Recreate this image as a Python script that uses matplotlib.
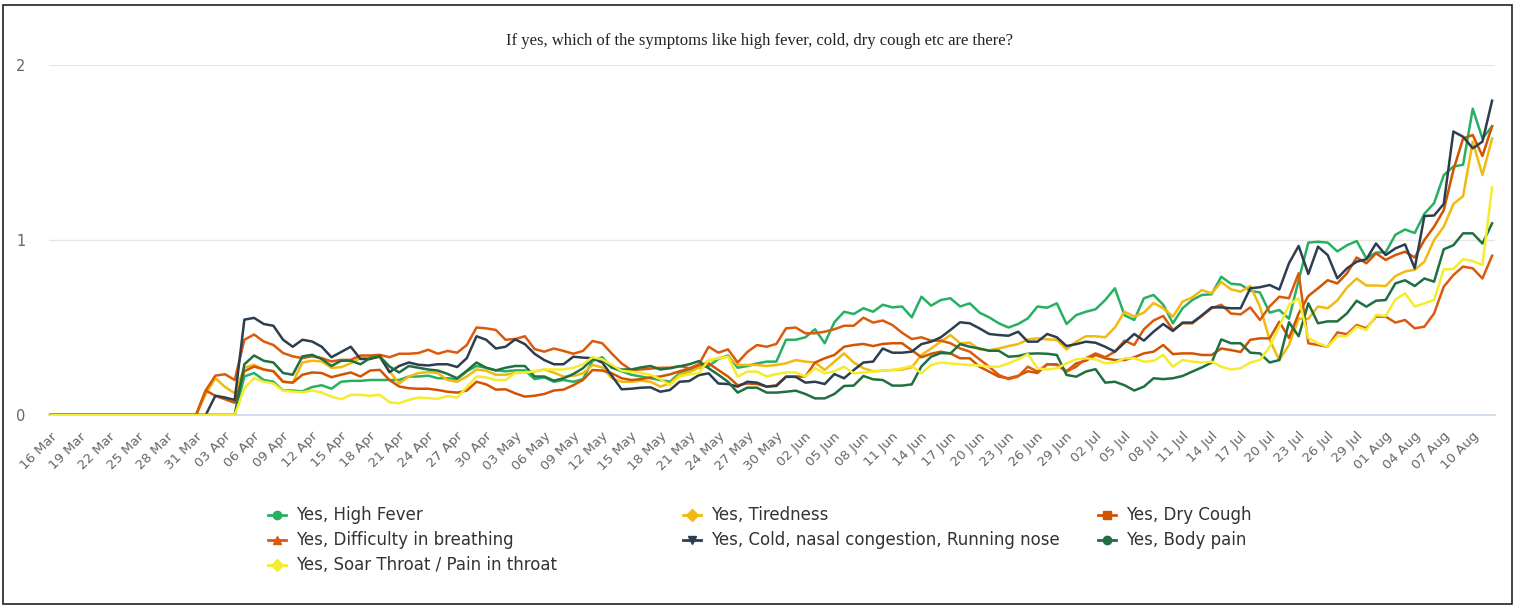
import matplotlib.pyplot as plt
from matplotlib.lines import Line2D
from matplotlib.patches import Rectangle
from matplotlib.transforms import ScaledTranslation

W, H = 1518, 608

title = "If yes, which of the symptoms like high fever, cold, dry cough etc are there?"

tick_labels = [
    "16 Mar", "19 Mar", "22 Mar", "25 Mar", "28 Mar", "31 Mar", "03 Apr", "06 Apr",
    "09 Apr", "12 Apr", "15 Apr", "18 Apr", "21 Apr", "24 Apr", "27 Apr", "30 Apr",
    "03 May", "06 May", "09 May", "12 May", "15 May", "18 May", "21 May", "24 May",
    "27 May", "30 May", "02 Jun", "05 Jun", "08 Jun", "11 Jun", "14 Jun", "17 Jun",
    "20 Jun", "23 Jun", "26 Jun", "29 Jun", "02 Jul", "05 Jul", "08 Jul", "11 Jul",
    "14 Jul", "17 Jul", "20 Jul", "23 Jul", "26 Jul", "29 Jul", "01 Aug", "04 Aug",
    "07 Aug", "10 Aug",
]

# one value per day, 16 Mar .. 12 Aug
high_fever = [
    0, 0, 0, 0, 0, 0, 0, 0, 0, 0, 0, 0, 0, 0, 0, 0, 0, 0, 0, 0,
    0.22, 0.24, 0.20, 0.19, 0.14, 0.14, 0.135, 0.16, 0.17, 0.15,
    0.19, 0.195, 0.195, 0.20, 0.20, 0.20, 0.20, 0.22, 0.22, 0.225,
    0.21, 0.21, 0.205, 0.25, 0.28, 0.27, 0.255, 0.25, 0.255, 0.255,
    0.205, 0.215, 0.19, 0.20, 0.19, 0.205, 0.31, 0.33, 0.27, 0.25,
    0.23, 0.22, 0.21, 0.20, 0.19, 0.24, 0.26, 0.27, 0.28, 0.32,
    0.34, 0.27, 0.28, 0.295, 0.305, 0.305, 0.43, 0.43, 0.444, 0.49,
    0.41, 0.53, 0.59, 0.577, 0.61, 0.59, 0.63, 0.615, 0.62, 0.558,
    0.676, 0.625, 0.657, 0.667, 0.62, 0.638, 0.585, 0.558, 0.524, 0.50,
    0.52, 0.552, 0.62, 0.613, 0.638, 0.52, 0.571, 0.59, 0.604, 0.657,
    0.724, 0.57, 0.543, 0.667, 0.686, 0.63, 0.524, 0.61, 0.657, 0.686,
    0.69, 0.79, 0.75, 0.745, 0.71, 0.70, 0.585, 0.60, 0.55, 0.77,
    0.985, 0.99, 0.985, 0.935, 0.97, 0.994, 0.895, 0.928, 0.93, 1.03,
    1.06, 1.04, 1.15, 1.21, 1.37, 1.42, 1.43, 1.75, 1.58, 1.65,
]

tiredness = [
    0, 0, 0, 0, 0, 0, 0, 0, 0, 0, 0, 0, 0, 0, 0, 0, 0.12, 0.21, 0.16, 0.124,
    0.27, 0.287, 0.26, 0.25, 0.19, 0.185, 0.30, 0.31, 0.306, 0.27,
    0.273, 0.296, 0.325, 0.33, 0.33, 0.25, 0.18, 0.22, 0.24, 0.245,
    0.24, 0.20, 0.19, 0.22, 0.26, 0.253, 0.23, 0.23, 0.24, 0.242,
    0.248, 0.26, 0.242, 0.22, 0.223, 0.238, 0.286, 0.272, 0.21, 0.19,
    0.19, 0.196, 0.19, 0.162, 0.18, 0.23, 0.245, 0.27, 0.31, 0.324,
    0.333, 0.286, 0.286, 0.286, 0.28, 0.286, 0.295, 0.314, 0.305, 0.30,
    0.257, 0.305, 0.352, 0.30, 0.267, 0.25, 0.253, 0.257, 0.26, 0.272,
    0.343, 0.38, 0.419, 0.457, 0.41, 0.413, 0.375, 0.37, 0.38, 0.394,
    0.405, 0.432, 0.438, 0.432, 0.43, 0.375, 0.419, 0.45, 0.45, 0.444,
    0.50, 0.59, 0.562, 0.585, 0.64, 0.61, 0.562, 0.648, 0.672, 0.714,
    0.695, 0.76, 0.718, 0.705, 0.737, 0.62, 0.43, 0.314, 0.40, 0.55,
    0.55, 0.62, 0.61, 0.655, 0.728, 0.78, 0.74, 0.74, 0.737, 0.794,
    0.82, 0.83, 0.876, 1.00, 1.076, 1.206, 1.25, 1.562, 1.371, 1.58,
]

dry_cough = [
    0, 0, 0, 0, 0, 0, 0, 0, 0, 0, 0, 0, 0, 0, 0, 0, 0.14, 0.11, 0.09, 0.07,
    0.25, 0.277, 0.26, 0.25, 0.19, 0.185, 0.23, 0.243, 0.24, 0.216,
    0.23, 0.243, 0.22, 0.254, 0.258, 0.20, 0.163, 0.153, 0.15, 0.15,
    0.143, 0.133, 0.128, 0.14, 0.19, 0.175, 0.145, 0.147, 0.124, 0.105,
    0.11, 0.12, 0.14, 0.145, 0.17, 0.20, 0.257, 0.254, 0.238, 0.21,
    0.20, 0.205, 0.215, 0.22, 0.232, 0.25, 0.265, 0.285, 0.295, 0.257,
    0.22, 0.17, 0.18, 0.177, 0.162, 0.17, 0.22, 0.22, 0.22, 0.30,
    0.324, 0.343, 0.39, 0.40, 0.406, 0.394, 0.406, 0.41, 0.41, 0.37,
    0.33, 0.35, 0.362, 0.352, 0.324, 0.324, 0.276, 0.248, 0.219, 0.21,
    0.224, 0.25, 0.24, 0.29, 0.29, 0.25, 0.295, 0.31, 0.343, 0.324,
    0.314, 0.314, 0.33, 0.352, 0.362, 0.40, 0.348, 0.352, 0.352, 0.343,
    0.343, 0.38, 0.371, 0.36, 0.43, 0.438, 0.438, 0.533, 0.44, 0.58,
    0.68, 0.724, 0.77, 0.752, 0.81, 0.90, 0.867, 0.924, 0.886, 0.914,
    0.933, 0.90, 1.00, 1.076, 1.17, 1.40, 1.58, 1.60, 1.48, 1.65,
]

breathing = [
    0, 0, 0, 0, 0, 0, 0, 0, 0, 0, 0, 0, 0, 0, 0, 0, 0.14, 0.225, 0.233, 0.20,
    0.43, 0.46, 0.42, 0.40, 0.354, 0.335, 0.325, 0.335, 0.325, 0.306,
    0.315, 0.315, 0.34, 0.34, 0.344, 0.33, 0.35, 0.35, 0.354, 0.373,
    0.35, 0.366, 0.356, 0.40, 0.50, 0.495, 0.486, 0.43, 0.434, 0.45,
    0.377, 0.362, 0.38, 0.366, 0.35, 0.366, 0.423, 0.41, 0.35, 0.295,
    0.257, 0.26, 0.265, 0.27, 0.27, 0.28, 0.267, 0.29, 0.39, 0.356,
    0.375, 0.30, 0.36, 0.40, 0.39, 0.406, 0.495, 0.50, 0.467, 0.467,
    0.476, 0.49, 0.51, 0.51, 0.556, 0.528, 0.54, 0.514, 0.47, 0.434,
    0.444, 0.425, 0.425, 0.41, 0.38, 0.362, 0.318, 0.276, 0.229, 0.205,
    0.22, 0.276, 0.248, 0.29, 0.286, 0.248, 0.276, 0.324, 0.352, 0.33,
    0.362, 0.425, 0.40, 0.49, 0.54, 0.566, 0.486, 0.524, 0.524, 0.566,
    0.61, 0.63, 0.58, 0.575, 0.615, 0.543, 0.62, 0.676, 0.667, 0.81,
    0.41, 0.40, 0.39, 0.472, 0.462, 0.514, 0.495, 0.562, 0.562, 0.528,
    0.543, 0.495, 0.505, 0.58, 0.733, 0.80, 0.848, 0.838, 0.78, 0.91,
]

cold = [
    0, 0, 0, 0, 0, 0, 0, 0, 0, 0, 0, 0, 0, 0, 0, 0, 0, 0.11, 0.10, 0.086,
    0.545, 0.555, 0.52, 0.51, 0.43, 0.39, 0.43, 0.42, 0.39, 0.33,
    0.36, 0.39, 0.32, 0.32, 0.335, 0.245, 0.28, 0.30, 0.287, 0.283,
    0.29, 0.29, 0.274, 0.325, 0.45, 0.43, 0.38, 0.39, 0.432, 0.405,
    0.35, 0.314, 0.29, 0.29, 0.333, 0.328, 0.324, 0.30, 0.223, 0.147,
    0.15, 0.156, 0.158, 0.133, 0.143, 0.19, 0.194, 0.228, 0.238, 0.18,
    0.177, 0.162, 0.19, 0.185, 0.162, 0.166, 0.218, 0.218, 0.185, 0.19,
    0.177, 0.234, 0.21, 0.257, 0.30, 0.305, 0.38, 0.356, 0.356, 0.362,
    0.405, 0.419, 0.444, 0.486, 0.53, 0.524, 0.495, 0.463, 0.457, 0.453,
    0.476, 0.419, 0.419, 0.463, 0.444, 0.394, 0.405, 0.419, 0.413, 0.39,
    0.362, 0.413, 0.463, 0.425, 0.476, 0.52, 0.48, 0.528, 0.528, 0.57,
    0.615, 0.615, 0.61, 0.61, 0.724, 0.73, 0.743, 0.717, 0.867, 0.966,
    0.806, 0.962, 0.914, 0.781, 0.838, 0.876, 0.89, 0.98, 0.914, 0.952,
    0.975, 0.838, 1.137, 1.14, 1.206, 1.62, 1.59, 1.524, 1.562, 1.796,
]

body_pain = [
    0, 0, 0, 0, 0, 0, 0, 0, 0, 0, 0, 0, 0, 0, 0, 0, 0, 0, 0, 0,
    0.29, 0.34, 0.31, 0.30, 0.24, 0.23, 0.335, 0.344, 0.32, 0.28,
    0.31, 0.31, 0.29, 0.325, 0.335, 0.277, 0.243, 0.28, 0.27, 0.26,
    0.254, 0.235, 0.21, 0.253, 0.30, 0.27, 0.255, 0.27, 0.28, 0.28,
    0.22, 0.22, 0.196, 0.21, 0.234, 0.267, 0.32, 0.314, 0.272, 0.26,
    0.26, 0.272, 0.28, 0.26, 0.267, 0.278, 0.29, 0.308, 0.267, 0.23,
    0.19, 0.128, 0.156, 0.156, 0.128, 0.128, 0.133, 0.139, 0.12, 0.095,
    0.095, 0.12, 0.166, 0.168, 0.223, 0.204, 0.20, 0.168, 0.168, 0.175,
    0.278, 0.333, 0.354, 0.352, 0.405, 0.39, 0.38, 0.367, 0.367, 0.333,
    0.337, 0.35, 0.352, 0.35, 0.343, 0.229, 0.219, 0.248, 0.262, 0.185,
    0.19, 0.17, 0.14, 0.162, 0.21, 0.205, 0.21, 0.223, 0.248, 0.272,
    0.30, 0.432, 0.41, 0.41, 0.356, 0.352, 0.30, 0.314, 0.53, 0.45,
    0.638, 0.524, 0.535, 0.535, 0.581, 0.653, 0.619, 0.653, 0.657, 0.752,
    0.77, 0.737, 0.78, 0.762, 0.947, 0.97, 1.038, 1.038, 0.98, 1.095,
]

sore_throat = [
    0, 0, 0, 0, 0, 0, 0, 0, 0, 0, 0, 0, 0, 0, 0, 0, 0, 0, 0, 0,
    0.153, 0.21, 0.19, 0.18, 0.138, 0.134, 0.13, 0.14, 0.128, 0.105,
    0.09, 0.115, 0.115, 0.11, 0.115, 0.073, 0.067, 0.086, 0.10, 0.096,
    0.092, 0.108, 0.10, 0.16, 0.22, 0.215, 0.20, 0.20, 0.24, 0.242,
    0.25, 0.26, 0.26, 0.26, 0.27, 0.29, 0.33, 0.318, 0.286, 0.253,
    0.247, 0.24, 0.23, 0.205, 0.17, 0.22, 0.232, 0.24, 0.314, 0.324,
    0.333, 0.22, 0.248, 0.248, 0.22, 0.234, 0.243, 0.243, 0.22, 0.267,
    0.238, 0.25, 0.276, 0.238, 0.243, 0.248, 0.253, 0.257, 0.267, 0.28,
    0.238, 0.286, 0.30, 0.295, 0.29, 0.286, 0.283, 0.276, 0.276, 0.295,
    0.318, 0.348, 0.267, 0.26, 0.267, 0.295, 0.318, 0.324, 0.318, 0.295,
    0.30, 0.324, 0.324, 0.305, 0.309, 0.343, 0.276, 0.314, 0.305, 0.30,
    0.305, 0.276, 0.26, 0.267, 0.30, 0.314, 0.39, 0.505, 0.63, 0.667,
    0.44, 0.41, 0.39, 0.45, 0.451, 0.505, 0.486, 0.571, 0.566, 0.66,
    0.695, 0.62, 0.638, 0.657, 0.832, 0.834, 0.89, 0.88, 0.857, 1.30,
]

series = [
    ("Yes, High Fever", high_fever, "#27b062", "o"),
    ("Yes, Tiredness", tiredness, "#f2b90f", "D"),
    ("Yes, Dry Cough", dry_cough, "#d35400", "s"),
    ("Yes, Difficulty in breathing", breathing, "#dc5a0c", "^"),
    ("Yes, Cold, nasal congestion, Running nose", cold, "#2c3e50", "v"),
    ("Yes, Body pain", body_pain, "#1e7040", "o"),
    ("Yes, Soar Throat / Pain in throat", sore_throat, "#f3ec2f", "D"),
]


def fx(px):
    return px / W


def fy(py):
    return 1 - py / H


fig = plt.figure(figsize=(W / 100, H / 100), dpi=100)
ax = fig.add_axes([fx(49), fy(415), (1495 - 49) / W, (415 - 65) / H])

n = len(high_fever)
x = list(range(n))
for name, vals, color, marker in series:
    ax.plot(x, vals, color=color, lw=1.8, solid_joinstyle="round", zorder=3)

ax.set_xlim(-0.2, n - 1 + 0.3)
ax.set_ylim(0, 2)
ax.set_yticks([0, 1, 2])
ax.set_yticklabels(["0", "1", "2"], fontsize=10.5, color="#666666")
ax.tick_params(axis="y", length=0, pad=17)
ax.grid(axis="y", color="#e6e6e6", lw=1)
ax.set_axisbelow(True)
for s in ["top", "right", "left"]:
    ax.spines[s].set_visible(False)
ax.spines["bottom"].set_color("#ccd6eb")
ax.spines["bottom"].set_linewidth(1.2)

ax.set_xticks(list(range(0, n, 3))[: len(tick_labels)])
ax.set_xticklabels(tick_labels, fontsize=9.5, color="#666666", rotation=45,
                   ha="right", va="center", rotation_mode="anchor")
ax.tick_params(axis="x", length=0, pad=14)
for lab in ax.get_xticklabels():
    lab.set_transform(lab.get_transform() + ScaledTranslation(4 / 100, 0, fig.dpi_scale_trans))

fig.text(0.5, fy(41), title, ha="center", va="center", fontsize=12,
         family="Liberation Serif", color="#222222")

# legend, three columns like the original
legend_pos = [(277, 515), (692, 515), (1107, 515),
              (277, 540), (692, 540), (1107, 540),
              (277, 565)]
for (name, vals, color, marker), (mx, my) in zip(series, legend_pos):
    fig.add_artist(Line2D([fx(mx - 9), fx(mx + 9)], [fy(my), fy(my)],
                          transform=fig.transFigure, color=color, lw=2))
    fig.add_artist(Line2D([fx(mx)], [fy(my)], transform=fig.transFigure,
                          color=color, marker=marker, markersize=6, lw=0))
    fig.text(fx(mx + 19), fy(my), name, ha="left", va="center", fontsize=12,
             color="#333333")

fig.add_artist(Rectangle((fx(3), fy(604)), fx(1512 - 3), (604 - 5) / H,
                         transform=fig.transFigure, fill=False,
                         edgecolor="#222222", lw=1.2))

fig.savefig("out.png", dpi=100)
